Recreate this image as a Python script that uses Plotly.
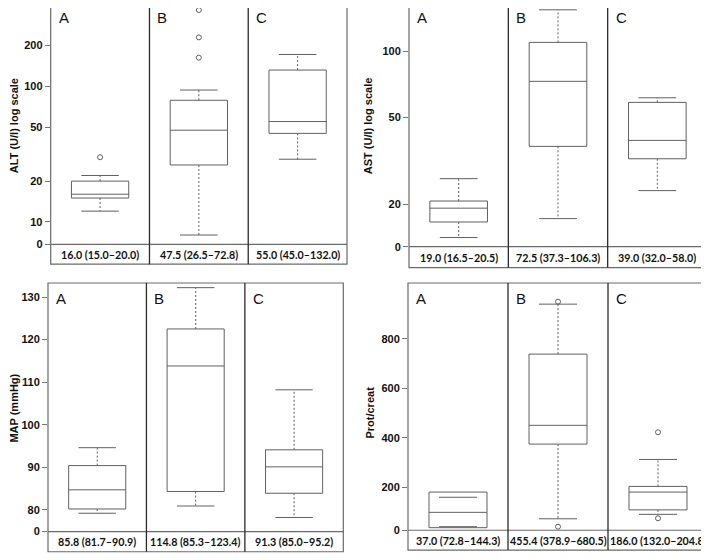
import math
import plotly.graph_objects as go

# the page puts the figure 8px in from the top-left corner of the window
OFF = 8
W, H = 709 - OFF, 560 - OFF
groups = ["A", "B", "C"]

# ALT (U/l), log scale
alt_q1 = [15.0, 26.3, 45.0]
alt_med = [16.0, 47.5, 55.0]
alt_q3 = [20.0, 79.0, 132.0]
alt_lo = [12.0, 8.0, 29.0]
alt_hi = [22.0, 94.0, 172.0]
alt_out = [[30.0], [163.0, 230.0, 366.0], []]
alt_text = ["16.0 (15.0–20.0)", "47.5 (26.5–72.8)", "55.0 (45.0–132.0)"]
alt_ticks = [10, 20, 50, 100, 200]
alt_range = [6.82, 379.0]

# AST (U/l), log scale
ast_q1 = [16.6, 36.8, 32.3]
ast_med = [19.2, 73.0, 39.2]
ast_q3 = [20.7, 110.0, 58.5]
ast_lo = [14.1, 17.2, 23.1]
ast_hi = [26.2, 155.0, 61.4]
ast_out = [[], [], []]
ast_text = ["19.0 (16.5–20.5)", "72.5 (37.3–106.3)", "39.0 (32.0–58.0)"]
ast_ticks = [20, 50, 100]
ast_range = [12.8, 158.0]

# MAP (mmHg)
map_q1 = [80.2, 84.3, 83.9]
map_med = [84.7, 113.8, 90.1]
map_q3 = [90.4, 122.5, 94.1]
map_lo = [79.2, 80.9, 78.2]
map_hi = [94.6, 132.2, 108.2]
map_out = [[], [], []]
map_text = ["85.8 (81.7–90.9)", "114.8 (85.3–123.4)", "91.3 (85.0–95.2)"]
map_ticks = [80, 90, 100, 110, 120, 130]
map_range = [74.9, 133.3]

# Prot/creat
pc_q1 = [36.0, 374.0, 108.0]
pc_med = [98.0, 450.0, 180.0]
pc_q3 = [180.0, 738.0, 203.0]
pc_lo = [40.0, 72.0, 90.0]
pc_hi = [159.0, 940.0, 312.0]
pc_out = [[], [950.0, 40.0], [422.0, 74.0]]
pc_text = ["37.0 (72.8–144.3)", "455.4 (378.9–680.5)", "186.0 (132.0–204.8)"]
pc_ticks = [200, 400, 600, 800]
pc_range = [25.6, 1025.6]

# window pixels: px frame left/right, py top/strip line/bottom, t title centre, ly letter centre
panels = [
    dict(title="ALT (U/l) log scale", log=True, q1=alt_q1, med=alt_med, q3=alt_q3,
         lo=alt_lo, hi=alt_hi, out=alt_out, text=alt_text, ticks=alt_ticks, rng=alt_range,
         px=(50.7, 347), py=(8, 247, 267), t=(14, 127.5), ly=17.5, open_top=True),
    dict(title="AST (U/l) log scale", log=True, q1=ast_q1, med=ast_med, q3=ast_q3,
         lo=ast_lo, hi=ast_hi, out=ast_out, text=ast_text, ticks=ast_ticks, rng=ast_range,
         px=(409, 707), py=(8, 249.3, 270.5), t=(368, 127.5), ly=17.5, open_top=True),
    dict(title="MAP (mmHg)", log=False, q1=map_q1, med=map_med, q3=map_q3,
         lo=map_lo, hi=map_hi, out=map_out, text=map_text, ticks=map_ticks, rng=map_range,
         px=(48, 343.3), py=(286, 537.3, 557.7), t=(14, 413), ly=301.5, open_top=False),
    dict(title="Prot/creat", log=False, q1=pc_q1, med=pc_med, q3=pc_q3,
         lo=pc_lo, hi=pc_hi, out=pc_out, text=pc_text, ticks=pc_ticks, rng=pc_range,
         px=(408, 708), py=(286, 536, 556), t=(370, 417), ly=301.5, open_top=False),
]

BOX = "#606060"
FRAME = "#6a6a6a"
DIV = "#2a2a2a"
BW, CW = 0.29, 0.19


def fx(x):
    return (x - OFF) / W


def fy(y):
    return (560 - y) / H


fig = go.Figure()
shapes, annos = [], []
layout = {}

for k, p in enumerate(panels, start=1):
    xa, ya = ("x", "y") if k == 1 else (f"x{k}", f"y{k}")
    xkey, ykey = ("xaxis", "yaxis") if k == 1 else (f"xaxis{k}", f"yaxis{k}")
    top, base, bottom = p["py"]
    main_h = base - top
    s = (bottom - base) / main_h

    def line(x, y, dash=None, width=1, color=BOX):
        fig.add_trace(go.Scatter(x=x, y=y, mode="lines", xaxis=xa, yaxis=ya,
                                 line=dict(color=color, width=width, dash=dash),
                                 hoverinfo="skip", showlegend=False))

    for i in range(3):
        q1, md, q3 = p["q1"][i], p["med"][i], p["q3"][i]
        lo, hi = p["lo"][i], p["hi"][i]
        line([i - BW, i + BW, i + BW, i - BW, i - BW], [q1, q1, q3, q3, q1])
        line([i - BW, i + BW], [md, md])
        if hi > q3:
            line([i, i], [q3, hi], dash="2px,2px")
        if lo < q1:
            line([i, i], [q1, lo], dash="2px,2px")
        line([i - CW, i + CW], [hi, hi])
        line([i - CW, i + CW], [lo, lo])
        if p["out"][i]:
            fig.add_trace(go.Scatter(x=[i] * len(p["out"][i]), y=p["out"][i], mode="markers",
                                     xaxis=xa, yaxis=ya, showlegend=False, hoverinfo="skip",
                                     marker=dict(symbol="circle-open", size=5,
                                                 color=BOX, line=dict(width=1))))
        annos.append(dict(x=i - 0.44, y=fy(p["ly"]), xref=xa, yref="paper",
                          text=groups[i], showarrow=False, xanchor="left", yanchor="middle",
                          font=dict(family="Liberation Sans", size=15, color="#111")))
        annos.append(dict(x=i, y=-s / 2, xref=xa, yref=f"{ya} domain", text=p["text"][i],
                          showarrow=False, xanchor="center", yanchor="middle",
                          font=dict(family="Lato", size=10.7, color="#111", weight="bold")))

    # frame, strip line and group dividers
    y1 = 1 + 12 / main_h if p["open_top"] else 1
    shapes.append(dict(type="rect", xref=f"{xa} domain", yref=f"{ya} domain",
                       x0=0, x1=1, y0=-s, y1=y1, line=dict(color=FRAME, width=1.2)))
    shapes.append(dict(type="line", xref=f"{xa} domain", yref=f"{ya} domain",
                       x0=0, x1=1, y0=0, y1=0, line=dict(color=FRAME, width=1.2)))
    for d in (0.5, 1.5):
        shapes.append(dict(type="line", xref=xa, yref=f"{ya} domain",
                           x0=d, x1=d, y0=-s, y1=y1, line=dict(color=DIV, width=1.3)))

    annos.append(dict(x=fx(p["t"][0]), y=fy(p["t"][1]), xref="paper", yref="paper",
                      text=p["title"], textangle=-90, showarrow=False,
                      xanchor="center", yanchor="middle",
                      font=dict(family="Liberation Sans", size=11, color="#111", weight="bold")))

    lo_v, hi_v = p["rng"]
    tickvals = [lo_v] + p["ticks"]
    ticktext = ["0"] + [str(t) for t in p["ticks"]]
    rng = [math.log10(lo_v), math.log10(hi_v)] if p["log"] else [lo_v, hi_v]
    layout[xkey] = dict(domain=[fx(p["px"][0]), min(fx(p["px"][1]), 1)], range=[-0.5, 2.5],
                        showticklabels=False, showgrid=False, zeroline=False,
                        showline=False, ticks="", anchor=ya, fixedrange=True)
    layout[ykey] = dict(domain=[fy(base), fy(top)], range=rng,
                        type="log" if p["log"] else "linear",
                        tickvals=tickvals, ticktext=ticktext, ticks="outside",
                        ticklen=5, tickcolor="#777", tickwidth=1,
                        showgrid=False, zeroline=False, showline=False, anchor=xa,
                        tickfont=dict(family="Liberation Sans", size=11, color="#111",
                                      weight="bold"), fixedrange=True)

fig.update_layout(width=W, height=H, margin=dict(l=0, r=0, t=0, b=0),
                  paper_bgcolor="white", plot_bgcolor="white",
                  shapes=shapes, annotations=annos, showlegend=False, **layout)

fig.write_html("out.html")
